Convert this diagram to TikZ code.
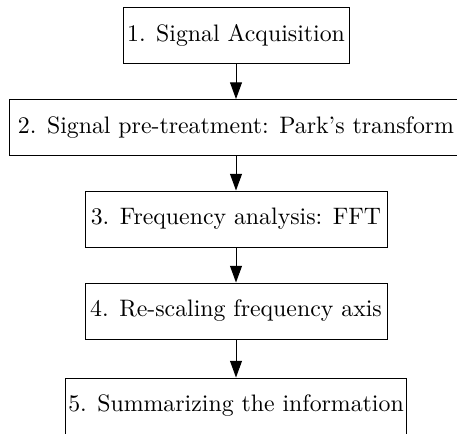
\documentclass[tikz,border=0pt]{standalone}
\usetikzlibrary{arrows.meta}
\tikzstyle{stepbox}=[draw, rectangle, line width=0.4pt, minimum height=56*0.42pt, inner sep=1pt]
\tikzstyle{flow}=[draw, line width=0.4pt, -{Triangle[length=7pt,width=5pt]}]
\def\steps{{236/35/226/acq/1. Signal Acquisition}, {236/127.5/454/park/2. Signal pre-treatment: Park's transform}, {236/219/302/fft/3. Frequency analysis: FFT}, {236/311/302/rescale/4. Re-scaling frequency axis}, {236/406/340/summary/5. Summarizing the information}}

\begin{document}
\begin{tikzpicture}[x=0.42pt, y=-0.42pt]

    % Page size of the reference
    \useasboundingbox (0,0) rectangle (457,433);

    % The processing steps
    \foreach \x/\y/\w/\name/\txt in \steps
      \node[stepbox, minimum width=\w*0.42pt] (\name) at (\x,\y) {\txt};

    % The arrows between them
    \foreach \source/\sink in {acq/park, park/fft, fft/rescale, rescale/summary}
      \path[flow] (\source) -- (\sink);
\end{tikzpicture}
\end{document}
